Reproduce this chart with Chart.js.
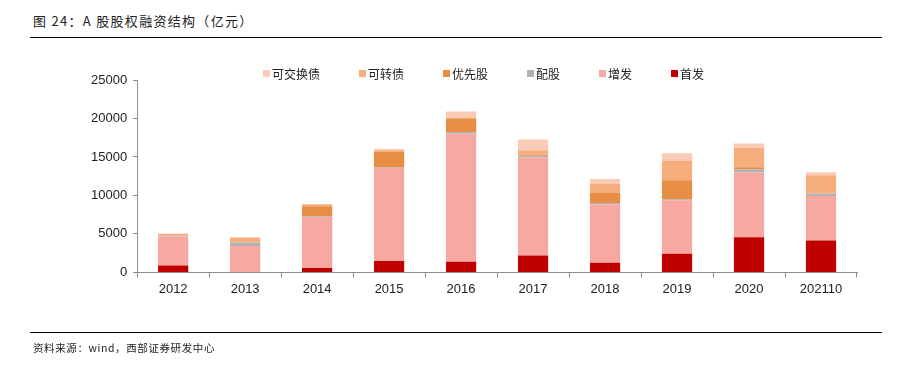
<!DOCTYPE html>
<html>
<head>
<meta charset="utf-8">
<script src="https://cdn.jsdelivr.net/npm/chart.js@4.4.0/dist/chart.umd.min.js"></script>
<style>
  body { margin: 0; background: #fff; font-family: "Noto Sans CJK SC", "Liberation Sans", sans-serif; }
  #wrap { position: relative; width: 903px; height: 371px; overflow: hidden; }
  #title { position: absolute; left: 33px; top: 11px; font-size: 13px; letter-spacing: 1.3px; color: #222; }
  .rule { position: absolute; left: 30px; width: 852px; height: 1px; background: #000; }
  #source { position: absolute; left: 33px; top: 340px; font-size: 10.5px; letter-spacing: 0.6px; color: #222; }
  #legend { position: absolute; top: 65px; left: 263px; display: flex; gap: 39px; font-size: 12px; color: #222; }
  #legend span { display: flex; align-items: center; }
  #legend i { display: inline-block; width: 7px; height: 7px; margin-right: 2px; }
  #chart { position: absolute; left: 0; top: 0; }
</style>
</head>
<body>
<div id="wrap">
  <div id="title">图 24：A 股股权融资结构（亿元）</div>
  <div class="rule" style="top:37px"></div>
  <canvas id="chart" width="903" height="371"></canvas>
  <div id="legend"></div>
  <div class="rule" style="top:332px"></div>
  <div id="source">资料来源：wind，西部证券研发中心</div>
</div>
<script>
const years = ["2012", "2013", "2014", "2015", "2016", "2017", "2018", "2019", "2020", "202110"];
// 自下而上堆叠
const ipo = [900, 0, 560, 1470, 1390, 2190, 1260, 2430, 4560, 4130];          // 首发
const seo = [3750, 3430, 6640, 12110, 16610, 12740, 7590, 6940, 8420, 5810];  // 增发
const rights = [100, 450, 100, 50, 230, 220, 170, 130, 430, 300];            // 配股
const preferred = [0, 0, 1300, 2030, 1780, 90, 1350, 2480, 260, 0];          // 优先股
const convertible = [250, 620, 250, 220, 130, 640, 1130, 2510, 2520, 2390];  // 可转债
const exchangeable = [50, 60, 50, 150, 780, 1400, 650, 1000, 560, 390];      // 可交换债
const yTicks = [0, 5000, 10000, 15000, 20000, 25000];

const series = [
  { label: "首发", data: ipo, color: "#C00000" },
  { label: "增发", data: seo, color: "#F7A8A0" },
  { label: "配股", data: rights, color: "#B2B2B2" },
  { label: "优先股", data: preferred, color: "#E88E44" },
  { label: "可转债", data: convertible, color: "#F8AD7C" },
  { label: "可交换债", data: exchangeable, color: "#FACCB8" },
];

// 图例（倒序）
const legend = document.getElementById("legend");
series.slice().reverse().forEach(s => {
  const item = document.createElement("span");
  item.innerHTML = '<i style="background:' + s.color + '"></i>' + s.label;
  legend.appendChild(item);
});

const axisColor = "#8c8c8c";
const tickFont = { family: "Liberation Sans", size: 13 };

new Chart(document.getElementById("chart"), {
  type: "bar",
  data: {
    labels: years,
    datasets: series.map(s => ({
      label: s.label,
      data: s.data,
      backgroundColor: s.color,
      borderWidth: 0,
      barPercentage: 0.42,
      categoryPercentage: 1,
    })),
  },
  options: {
    responsive: false,
    animation: false,
    layout: { padding: { left: 85, right: 46, top: 80, bottom: 70 } },
    plugins: { legend: { display: false }, tooltip: { enabled: false } },
    scales: {
      x: {
        stacked: true,
        grid: { drawOnChartArea: false, offset: true, tickLength: 5, color: axisColor },
        border: { color: axisColor },
        ticks: { color: "#222", font: tickFont, padding: 4 },
      },
      y: {
        stacked: true,
        min: yTicks[0],
        max: yTicks[yTicks.length - 1],
        afterBuildTicks: axis => { axis.ticks = yTicks.map(v => ({ value: v })); },
        grid: { drawOnChartArea: false, tickLength: 4, color: axisColor },
        border: { color: axisColor },
        ticks: { color: "#222", font: tickFont, padding: 6, callback: v => String(v) },
      },
    },
  },
});
</script>
</body>
</html>
